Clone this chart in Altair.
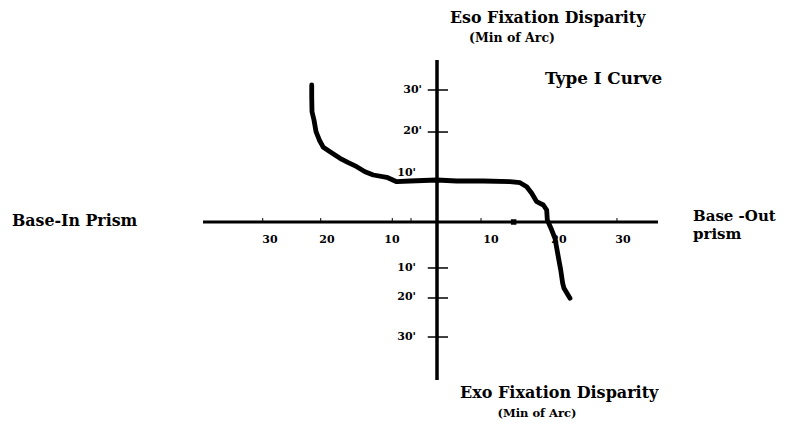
import altair as alt
import pandas as pd

# ---------------- data ----------------
# Type I fixation-disparity curve (x: prism, y: min of arc)
curve_x = [-21.60, -21.60, -21.55, -21.21, -20.86, -20.29, -19.60, -18.45, -16.72,
           -15.29, -13.84, -12.41, -10.98, -8.67, -6.95, -4.66, -0.05, 3.40, 7.98,
           12.59, 14.31, 15.47, 16.33, 17.19, 18.33, 18.91, 19.02, 19.78, 20.34,
           20.91, 21.33, 21.67, 21.90, 22.93]
curve_y = [31.14, 28.48, 25.07, 23.18, 20.52, 18.64, 16.98, 15.98, 14.48,
           13.48, 12.57, 11.43, 10.68, 10.16, 9.16, 9.32, 9.55, 9.32, 9.32,
           9.16, 8.93, 8.02, 6.52, 4.61, 3.86, 2.73, 0.45, -1.82, -3.70,
           -7.89, -10.91, -13.93, -15.07, -17.34]

# axis line extents
haxis_x = [-40.34, 38.10]
vaxis_y = [-35.90, 36.82]

# tick marks
xtick_pos = [-30.05, -20.05, -7.71, -4.48, 7.59, 31.03]
ytick_pos = [30.0, 20.45, -10.45, -17.27, -26.14]

# tick labels
xlab_pos = [-28.79, -18.97, -7.76, 9.31, 21.03, 32.07]
xlab_txt = ["30", "20", "10", "10", "20", "30"]
ylab_hi_pos = [30.0, 20.68]
ylab_hi_txt = ["30'", "20'"]
ylab_lo_pos = [11.2, -10.45, -17.05, -26.14]
ylab_lo_txt = ["10'", "10'", "20'", "30'"]

# small marks on the drawing
blob_x = [13.22]
blob_y = [0.0]

# texts
t_top = "Eso Fixation Disparity"
t_top_sub = "(Min of Arc)"
t_type = "Type I Curve"
t_left = "Base-In Prism"
t_right1 = "Base -Out"
t_right2 = "prism"
t_bottom = "Exo Fixation Disparity"
t_bottom_sub = "(Min of Arc)"

# ---------------- layout ----------------
W, H = 772, 418
OX, OY = 429, 214          # origin in plot pixels
SX, SY = 5.8, 4.4          # pixels per unit
xs = alt.Scale(domain=[-OX / SX, (W - OX) / SX], nice=False, zero=False)
ys = alt.Scale(domain=[(OY - H) / SY, OY / SY], nice=False, zero=False)
FONT = "DejaVu Serif"


def X(f="x"):
    return alt.X(f"{f}:Q", scale=xs, axis=None)


def Y(f="y"):
    return alt.Y(f"{f}:Q", scale=ys, axis=None)


layers = []

# axes lines
layers.append(alt.Chart(pd.DataFrame({"x": [haxis_x[0]], "x2": [haxis_x[1]], "y": [0]}))
              .mark_rule(color="black", strokeWidth=3)
              .encode(x=X(), x2="x2:Q", y=Y()))
layers.append(alt.Chart(pd.DataFrame({"x": [0], "y": [vaxis_y[0]], "y2": [vaxis_y[1]]}))
              .mark_rule(color="black", strokeWidth=3.5)
              .encode(x=X(), y=Y(), y2="y2:Q"))

# x ticks (short, upward)
layers.append(alt.Chart(pd.DataFrame({"x": xtick_pos, "y": [0] * len(xtick_pos),
                                      "y2": [0.9] * len(xtick_pos)}))
              .mark_rule(color="black", strokeWidth=1)
              .encode(x=X(), y=Y(), y2="y2:Q"))
# y ticks (crossing)
layers.append(alt.Chart(pd.DataFrame({"y": ytick_pos, "x": [-1.6] * len(ytick_pos),
                                      "x2": [1.9] * len(ytick_pos)}))
              .mark_rule(color="black", strokeWidth=1.5)
              .encode(x=X(), x2="x2:Q", y=Y()))

# curve
layers.append(alt.Chart(pd.DataFrame({"x": curve_x, "y": curve_y, "i": range(len(curve_x))}))
              .mark_line(color="black", strokeWidth=4.8, strokeCap="round", strokeJoin="round")
              .encode(x=X(), y=Y(), order="i:Q"))

# blob on the axis
layers.append(alt.Chart(pd.DataFrame({"x": blob_x, "y": blob_y}))
              .mark_point(shape="square", filled=True, size=30, color="black", opacity=1)
              .encode(x=X(), y=Y()))

# tick labels
layers.append(alt.Chart(pd.DataFrame({"x": xlab_pos, "t": xlab_txt}))
              .mark_text(font=FONT, fontWeight="bold", fontSize=11, baseline="middle",
                         align="center", color="black")
              .encode(x=X(), y=alt.value(232), text="t:N"))
layers.append(alt.Chart(pd.DataFrame({"y": ylab_hi_pos, "t": ylab_hi_txt}))
              .mark_text(font=FONT, fontWeight="bold", fontSize=11, baseline="middle",
                         align="right", color="black")
              .encode(x=alt.value(414), y=Y(), text="t:N"))
layers.append(alt.Chart(pd.DataFrame({"y": ylab_lo_pos, "t": ylab_lo_txt}))
              .mark_text(font=FONT, fontWeight="bold", fontSize=11, baseline="middle",
                         align="right", color="black")
              .encode(x=alt.value(408), y=Y(), text="t:N"))


def label(txt, x, y, size, align="left"):
    return (alt.Chart(pd.DataFrame({"t": [txt]}))
            .mark_text(font=FONT, fontWeight="bold", fontSize=size, align=align,
                       baseline="alphabetic", color="black")
            .encode(x=alt.value(x), y=alt.value(y), text="t:N"))


layers += [
    label(t_top, 442, 14.5, 15.8),
    label(t_top_sub, 504, 33.5, 12.5, "center"),
    label(t_type, 537, 76, 16.8),
    label(t_left, 4, 218, 15.8),
    label(t_right1, 685, 213, 15),
    label(t_right2, 685, 230.5, 15),
    label(t_bottom, 452, 390, 16),
    label(t_bottom_sub, 529, 409, 11.5, "center"),
]

chart = (alt.layer(*layers)
         .properties(width=W, height=H, autosize=alt.AutoSizeParams(type="none"), padding=0)
         .configure(background="white")
         .configure_view(stroke=None, strokeWidth=0))

chart.save("out.html", embed_options={"renderer": "svg", "actions": False})
